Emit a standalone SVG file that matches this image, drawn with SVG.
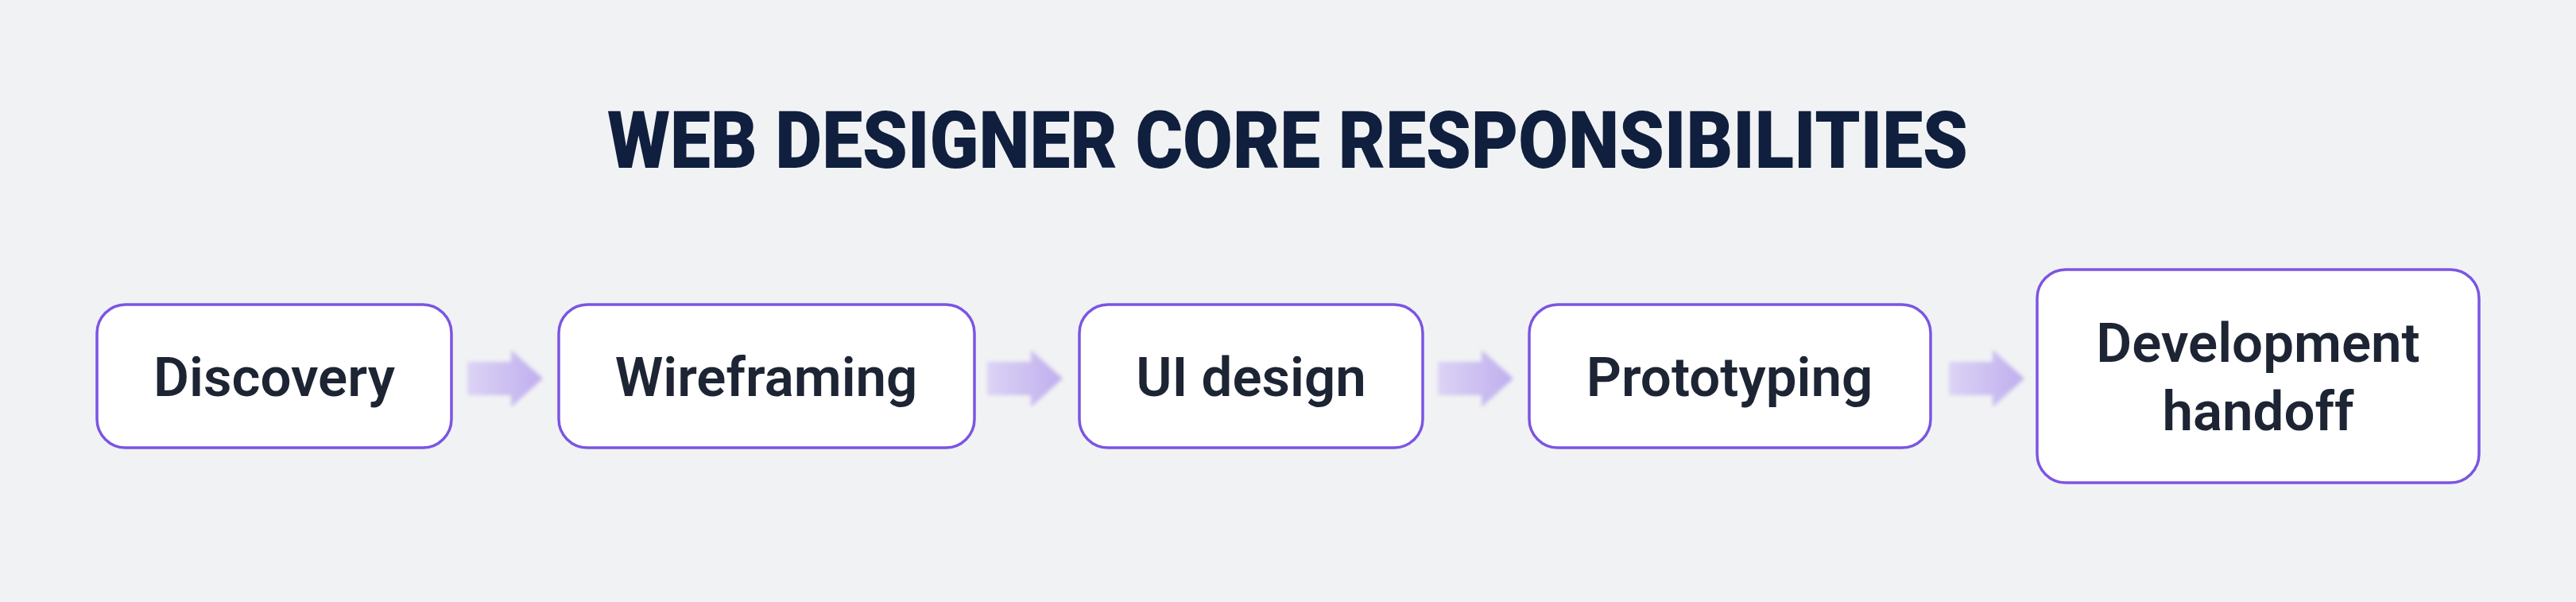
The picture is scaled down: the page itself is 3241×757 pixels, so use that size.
<svg xmlns="http://www.w3.org/2000/svg" width="3241" height="757" viewBox="0 0 3241 757">
<defs>
<style>
.box{fill:#fff;stroke:#7b55e2;stroke-width:3.5}
.lbl{font-family:Roboto,"Liberation Sans",sans-serif;font-weight:600;font-size:69px;fill:#1d2433;text-anchor:middle}
.arr{fill:url(#ag);filter:url(#bl)}
</style>
<linearGradient id="ag" x1="0" x2="1" y1="0" y2="0"><stop offset="0" stop-color="#dcd3f5"/><stop offset="1" stop-color="#bfaeee"/></linearGradient>
<filter id="bl" x="-20%" y="-20%" width="140%" height="140%"><feGaussianBlur stdDeviation="2.5"/></filter>
</defs>
<rect width="3241" height="757" fill="#f1f2f4"/>
<text x="1620" y="211" font-family="Roboto,'Liberation Sans',sans-serif" font-weight="900" font-size="91" fill="#0f1f3d" text-anchor="middle" transform="translate(1620 211) scale(1 1.1) translate(-1620 -211)">WEB DESIGNER CORE RESPONSIBILITIES</text>
<g id="connectors">
<path class="arr" d="M588 455H643V440L683 476L643 512V497H588Z"/>
<path class="arr" d="M1242 455H1297V440L1337 476L1297 512V497H1242Z"/>
<path class="arr" d="M1809 455H1864V440L1904 476L1864 512V497H1809Z"/>
<path class="arr" d="M2452 455H2507V440L2547 476L2507 512V497H2452Z"/>
</g>
<g id="n1"><rect class="box" x="122" y="383" width="446" height="180" rx="36"/><text class="lbl" x="345" y="498">Discovery</text></g>
<g id="n2"><rect class="box" x="703" y="383" width="523" height="180" rx="36"/><text class="lbl" x="964" y="498">Wireframing</text></g>
<g id="n3"><rect class="box" x="1358" y="383" width="432" height="180" rx="36"/><text class="lbl" x="1574" y="498">UI design</text></g>
<g id="n4"><rect class="box" x="1924" y="383" width="505" height="180" rx="36"/><text class="lbl" x="2176" y="498">Prototyping</text></g>
<g id="n5"><rect class="box" x="2563" y="339" width="556" height="268" rx="36"/><text class="lbl" x="2841" y="455">Development</text><text class="lbl" x="2841" y="541">handoff</text></g>
</svg>
